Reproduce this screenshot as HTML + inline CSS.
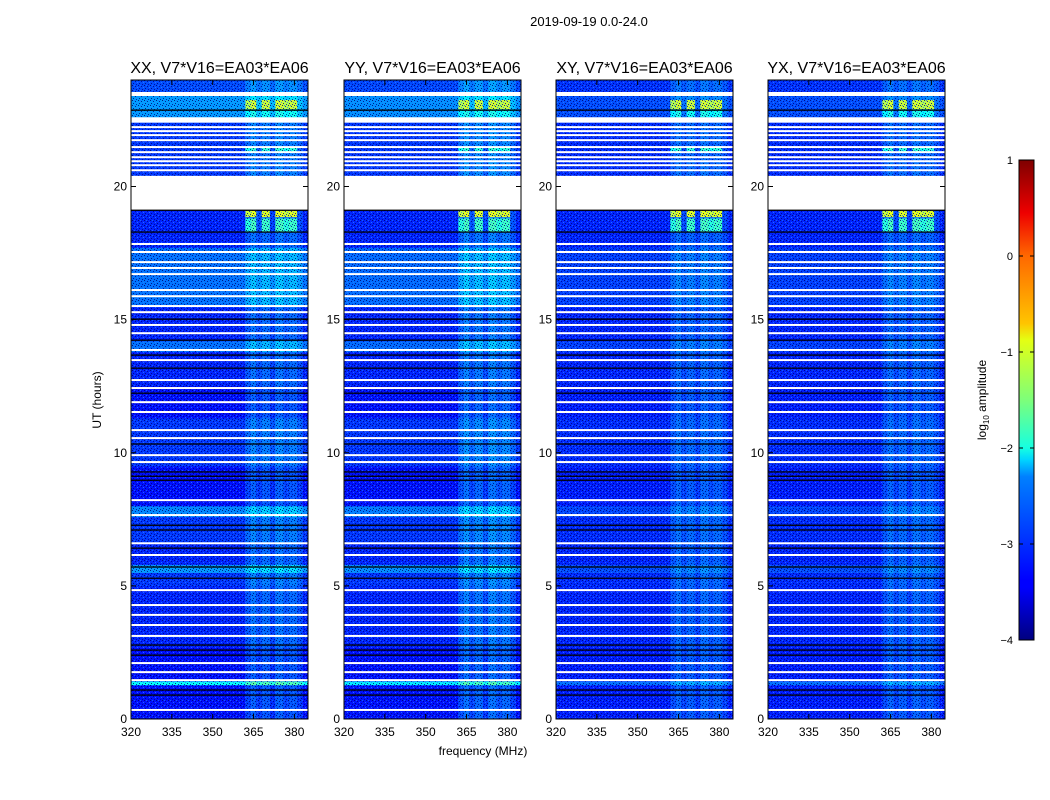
<!DOCTYPE html>
<html><head><meta charset="utf-8"><style>
body{margin:0;background:#fff}
svg{display:block;font-family:"Liberation Sans","DejaVu Sans",sans-serif}
</style></head><body>
<svg id="fig" width="1050" height="800" viewBox="0 0 1050 800" xmlns="http://www.w3.org/2000/svg">
<defs>
<linearGradient id="jet" x1="0" y1="1" x2="0" y2="0">
<stop offset="0" stop-color="#00007f"/><stop offset="0.11" stop-color="#0000ff"/><stop offset="0.125" stop-color="#0000ff"/>
<stop offset="0.34" stop-color="#0080ff"/><stop offset="0.375" stop-color="#00d4ff"/><stop offset="0.4" stop-color="#16ffe1"/>
<stop offset="0.5" stop-color="#7dff7a"/><stop offset="0.625" stop-color="#e4ff13"/><stop offset="0.66" stop-color="#ffc400"/>
<stop offset="0.8" stop-color="#ff6800"/><stop offset="0.89" stop-color="#ee0000"/><stop offset="1" stop-color="#7f0000"/>
</linearGradient>
<pattern id="speckle" width="6" height="5" patternUnits="userSpaceOnUse">
<rect x="0" y="0" width="1" height="1" fill="#000060"/><rect x="3" y="1" width="1" height="1" fill="#000080"/>
<rect x="1" y="3" width="1" height="1" fill="#000070"/><rect x="4" y="4" width="1" height="1" fill="#000090"/>
<rect x="5" y="2" width="1" height="1" fill="#3080ff"/><rect x="2" y="0" width="1" height="1" fill="#2070ff"/>
</pattern>
</defs>
<text x="589" y="26" font-size="13" text-anchor="middle">2019-09-19 0.0-24.0</text>
<text x="483" y="755" font-size="12" text-anchor="middle">frequency (MHz)</text>
<text transform="translate(101,400) rotate(-90)" font-size="12" text-anchor="middle">UT (hours)</text>
<g id="panels"></g>
<g>
<rect x="1019" y="160" width="15" height="480" fill="url(#jet)" stroke="#000" stroke-width="1"/>
<g id="cbticks"></g>
<text transform="translate(986,400) rotate(-90)" font-size="12" text-anchor="middle">log<tspan font-size="8" dy="3">10</tspan><tspan dy="-3"> amplitude</tspan></text>
</g>
</svg>
<script>
const panelTitles=["XX, V7*V16=EA03*EA06","YY, V7*V16=EA03*EA06","XY, V7*V16=EA03*EA06","YX, V7*V16=EA03*EA06"];
const xTicks=[320,335,350,365,380];
const yTicks=[0,5,10,15,20];
const cbTicks=[-4,-3,-2,-1,0,1];
const rowStart=[0,1.28,1.42,2.7,5.0,5.5,5.8,6.6,7.6,8.0,9.5,11.3,12.5,13.8,14.2,15.5,17.7,20.4,22.6,23.55];
const rowEnd=[1.28,1.42,2.7,5.0,5.5,5.8,6.6,7.6,8.0,9.5,11.3,12.5,13.8,14.2,15.5,17.7,19.1,22.4,23.4,24];
const rowLevel=[-3.3,-2.1,-3.3,-3.2,-3.1,-2.6,-3.2,-3.1,-2.7,-3.3,-3.1,-3.3,-3.2,-2.8,-3.2,-2.8,-3.2,-3.1,-2.6,-3.0];
const panelLight=[1,0.9,0.35,0.35];
const rfiScale=[1,1.2,0.9,0.9];
const freqStart=[320,362,364,366,368,371,373,376,378,381,383];
const freqEnd=[362,364,366,368,371,373,376,378,381,383,385];
const freqBoost=[0,0.25,0.4,0.2,0.35,0.15,0.4,0.25,0.35,0.2,0];
const rfiRowStart=[22.9,18.85,18.3,21.3,22.6];
const rfiRowEnd=[23.25,19.1,18.8,21.5,22.9];
const rfiRowLevel=[-1.2,-1.1,-1.9,-2.0,-2.1];
const wideGapStart=[19.1,22.4,23.4];
const wideGapEnd=[20.4,22.6,23.55];
const whiteLines=[22.23,22.08,21.93,21.74,21.48,21.29,21.10,20.95,20.80,20.61,17.84,17.54,17.16,16.94,16.71,16.11,15.88,15.51,15.28,14.80,14.49,13.86,13.48,12.73,12.43,11.90,11.53,10.85,10.55,9.91,9.65,8.22,7.66,6.6,6.16,4.84,4.28,3.91,3.53,3.12,2.10,1.76,1.46,0.34];
const blackLines=[22.87,19.11,18.29,15.02,14.23,13.67,13.18,12.24,10.33,9.28,9.12,8.97,7.28,7.10,6.42,5.71,5.29,2.78,2.59,2.40,1.09,0.9];

const NS="http://www.w3.org/2000/svg";
const lefts=[131,344,556,768],PW=177,TOP=80,BOT=719,FMIN=320,FMAX=385,HMAX=24;
function jet(v){let t=(v+4)/5;t=Math.max(0,Math.min(1,t));
 const r=Math.max(0,Math.min(1,1.5-Math.abs(4*t-3))),g=Math.max(0,Math.min(1,1.5-Math.abs(4*t-2))),b=Math.max(0,Math.min(1,1.5-Math.abs(4*t-1)));
 return `rgb(${Math.round(r*255)},${Math.round(g*255)},${Math.round(b*255)})`;}
function mk(tag,attrs,parent){const e=document.createElementNS(NS,tag);for(const k in attrs)e.setAttribute(k,attrs[k]);parent.appendChild(e);return e;}
const root=document.getElementById('panels');
panelTitles.forEach((title,p)=>{
 const L=lefts[p];
 const xs=f=>L+(f-FMIN)/(FMAX-FMIN)*PW;
 const ys=h=>BOT-h/HMAX*(BOT-TOP);
 const g=mk('g',{},root);
 
 
 for(let r=0;r<rowStart.length;r++){
  const base=-3.2+(rowLevel[r]+3.2)*panelLight[p];
  for(let c=0;c<freqStart.length;c++){
   const v=base+freqBoost[c]*rfiScale[p];
   const rc=mk('rect',{x:xs(freqStart[c]),y:ys(rowEnd[r]),width:xs(freqEnd[c])-xs(freqStart[c])+0.3,height:ys(rowStart[r])-ys(rowEnd[r])+0.3,fill:jet(v)},g);
   
   
  }
 }
 for(let k=0;k<rfiRowStart.length;k++){
  for(let c=0;c<freqStart.length;c++){
   if(freqBoost[c]<0.22)continue;
   const v=rfiRowLevel[k]+(freqBoost[c]-0.3);
   const rc=mk('rect',{x:xs(freqStart[c]),y:ys(rfiRowEnd[k]),width:xs(freqEnd[c])-xs(freqStart[c]),height:ys(rfiRowStart[k])-ys(rfiRowEnd[k]),fill:jet(v)},g);
   
   
  }
 }
 mk('rect',{x:L,y:TOP,width:PW,height:BOT-TOP,fill:'url(#speckle)',opacity:0.8},g);
 for(let k=0;k<wideGapStart.length;k++){
  const rc=mk('rect',{x:L,y:ys(wideGapEnd[k]),width:PW,height:ys(wideGapStart[k])-ys(wideGapEnd[k]),fill:'#fff'},g);
  
  
 }
 whiteLines.forEach(h=>{const rc=mk('rect',{x:L,y:ys(h)-1,width:PW,height:2,fill:'#fff'},g);
  
  });
 blackLines.forEach(h=>{const rc=mk('rect',{x:L,y:ys(h)-0.6,width:PW,height:1.3,fill:'#000'},g);
  
  });
 mk('rect',{x:L,y:TOP,width:PW,height:BOT-TOP,fill:'none',stroke:'#000','stroke-width':1},g);
 const t=mk('text',{x:L+PW/2,y:73,'font-size':16,'text-anchor':'middle'},g);t.textContent=title;
 
 
 xTicks.forEach(f=>{const x=xs(f);
  mk('line',{x1:x,x2:x,y1:BOT,y2:BOT-5,stroke:'#000'},g);mk('line',{x1:x,x2:x,y1:TOP,y2:TOP+5,stroke:'#000'},g);
  const tx=mk('text',{x:x,y:BOT+17,'font-size':12,'text-anchor':'middle'},g);tx.textContent=f;
  
  });
 yTicks.forEach(h=>{const y=ys(h);
  mk('line',{x1:L,x2:L+5,y1:y,y2:y,stroke:'#000'},g);mk('line',{x1:L+PW,x2:L+PW-5,y1:y,y2:y,stroke:'#000'},g);
  const tx=mk('text',{x:L-4,y:y+4,'font-size':12,'text-anchor':'end'},g);tx.textContent=h;
  
  });
});
const cb=document.getElementById('cbticks');
cbTicks.forEach(v=>{const y=640-(v+4)/5*480;
 mk('line',{x1:1019,x2:1023,y1:y,y2:y,stroke:'#000'},cb);mk('line',{x1:1030,x2:1034,y1:y,y2:y,stroke:'#000'},cb);
 const tx=mk('text',{x:1013,y:y+4,'font-size':11,'text-anchor':'end'},cb);tx.textContent=(v<0?'\u2212'+(-v):v);
 
 });
</script>
</body></html>
